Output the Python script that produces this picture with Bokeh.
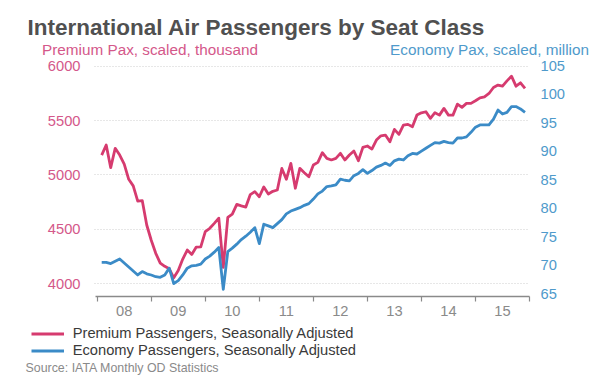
from bokeh.plotting import figure
from bokeh.models import (Range1d, LinearAxis, FixedTicker, Label, Legend, LegendItem)
from bokeh.embed import file_html
from bokeh.resources import INLINE

# ---------------- data (monthly, Jan 2008 .. Nov 2015) ----------------
start_year = 2008
premium = [
    5183, 5275, 5067, 5245, 5183, 5100, 4960, 4900, 4760, 4765, 4540, 4400,   # 2008
    4280, 4190, 4160, 4138, 4055, 4122, 4227, 4310, 4270, 4337, 4340, 4480,   # 2009
    4510, 4555, 4603, 4150, 4610, 4640, 4730, 4716, 4705, 4820, 4847, 4800,   # 2010
    4890, 4825, 4850, 4862, 5060, 4960, 5107, 4878, 5061, 5021, 4984, 5092,   # 2011
    5116, 5205, 5153, 5138, 5153, 5199, 5138, 5183, 5220, 5131, 5254, 5266,   # 2012
    5238, 5321, 5360, 5367, 5305, 5419, 5373, 5459, 5465, 5443, 5550, 5571,   # 2013
    5581, 5520, 5572, 5550, 5612, 5550, 5550, 5651, 5621, 5658, 5658, 5682,   # 2014
    5709, 5718, 5749, 5804, 5826, 5816, 5865, 5908, 5816, 5847, 5795,         # 2015
]
economy = [
    70.5, 70.5, 70.3, 70.7, 71.1, 70.4, 69.7, 69.0, 68.3, 68.9, 68.5, 68.3,   # 2008
    68.0, 67.9, 68.3, 69.5, 66.8, 67.3, 68.3, 69.5, 69.9, 70.0, 70.2, 71.1,   # 2009
    71.6, 72.3, 73.1, 65.8, 72.4, 73.0, 73.7, 74.5, 75.1, 75.8, 76.6, 73.8,   # 2010
    77.2, 76.9, 76.6, 77.3, 78.0, 79.0, 79.5, 79.8, 80.1, 80.5, 80.8, 81.6,   # 2011
    82.5, 83.0, 83.8, 83.9, 84.1, 85.1, 84.9, 84.8, 85.7, 86.1, 86.75, 86.1,  # 2012
    86.6, 87.2, 87.5, 87.9, 87.5, 88.3, 88.6, 88.45, 89.2, 89.6, 89.5, 90.0,  # 2013
    90.5, 91.0, 91.5, 91.4, 91.7, 91.5, 91.4, 92.3, 92.3, 92.5, 93.3, 94.2,   # 2014
    94.6, 94.6, 94.6, 95.6, 97.2, 96.5, 96.8, 97.8, 97.8, 97.4, 96.8,         # 2015
]
years = [2008, 2009, 2010, 2011, 2012, 2013, 2014, 2015]
year_labels = ["08", "09", "10", "11", "12", "13", "14", "15"]
left_ticks = [4000, 4500, 5000, 5500, 6000]
right_ticks = [65, 70, 75, 80, 85, 90, 95, 100, 105]

title_text = "International Air Passengers by Seat Class"
left_title = "Premium Pax, scaled, thousand"
right_title = "Economy Pax, scaled, million"
premium_name = "Premium Passengers, Seasonally Adjusted"
economy_name = "Economy Passengers, Seasonally Adjusted"
source_text = "Source: IATA Monthly OD Statistics"

# month-end positions in decimal years
xpos = [start_year + (i + 1) / 12 for i in range(len(premium))]

# ---------------- styling / geometry ----------------
PINK = "#d63b6f"
PINK_TXT = "#d4588a"
BLUE = "#3b8bc7"
BLUE_TXT = "#4f9acb"
GREY = "#8a8a8a"
FONT = "Liberation Sans"

W, H = 600, 381
# plot area in canvas pixels
PL, PR, PT, PB = 94, 529, 60, 296
# plot-area data limits
XA, XB = 2007.95, 2016.0
YA, YB = 3883.0, 6052.0
RA, RB = 64.53, 105.88


def extend(a, b, lo_px, hi_px, size):
    per = (b - a) / (hi_px - lo_px)
    return a - lo_px * per, b + (size - hi_px) * per


X0, X1 = extend(XA, XB, PL, PR, W)
Y0, Y1 = extend(YA, YB, H - PB, H - PT, H)
R0, R1 = extend(RA, RB, H - PB, H - PT, H)


def dx(px):
    return X0 + px / W * (X1 - X0)


def dy(py):
    return Y0 + (H - py) / H * (Y1 - Y0)


p = figure(width=W, height=H, output_backend="svg", toolbar_location=None,
           x_range=Range1d(X0, X1), y_range=Range1d(Y0, Y1),
           min_border=0, outline_line_color=None,
           background_fill_color="white", border_fill_color="white")
p.extra_y_ranges = {"eco": Range1d(R0, R1)}

# x axis drawn at the bottom of the plot area
xa = p.xaxis[0]
xa.fixed_location = YA
xa.bounds = (2007.97, XB)
xa.ticker = FixedTicker(ticks=[y + 0.5 for y in years],
                        minor_ticks=years + [years[-1] + 1])
xa.major_label_overrides = {y + 0.5: l for y, l in zip(years, year_labels)}
xa.major_tick_line_color = None
xa.major_tick_out = 0
xa.major_tick_in = 0
xa.minor_tick_line_color = GREY
xa.minor_tick_line_width = 1.2
xa.minor_tick_out = 5
xa.minor_tick_in = 0
xa.axis_line_color = GREY
xa.axis_line_width = 1.5
xa.major_label_text_color = GREY
xa.major_label_text_font = FONT
xa.major_label_text_font_size = "14.7px"
xa.major_label_standoff = 4

# left axis (premium)
ya = p.yaxis[0]
ya.fixed_location = XA
ya.ticker = FixedTicker(ticks=left_ticks)
ya.axis_line_color = None
ya.major_tick_line_color = None
ya.minor_tick_line_color = None
ya.major_tick_out = 0
ya.major_tick_in = 0
ya.major_label_text_color = PINK_TXT
ya.major_label_text_font = FONT
ya.major_label_text_font_size = "14.7px"
ya.major_label_standoff = 14

# right axis (economy)
ra = LinearAxis(y_range_name="eco", ticker=FixedTicker(ticks=right_ticks),
                fixed_location=XB)
ra.axis_line_color = None
ra.major_tick_line_color = None
ra.minor_tick_line_color = None
ra.major_tick_out = 0
ra.major_tick_in = 0
ra.major_label_text_color = BLUE_TXT
ra.major_label_text_font = FONT
ra.major_label_text_font_size = "14.7px"
ra.major_label_standoff = 11
p.add_layout(ra, "right")

p.xgrid.grid_line_color = None
g = p.ygrid[0]
g.grid_line_color = "#cfcfcf"
g.grid_line_dash = "1 2"
g.grid_line_width = 1
if "cross_bounds" in g.properties():
    g.cross_bounds = (XA, XB)

r_prem = p.line(xpos, premium, line_color=PINK, line_width=2.8, line_join="round")
r_eco = p.line(xpos, economy, y_range_name="eco", line_color=BLUE, line_width=2.8,
               line_join="round")

legend = Legend(items=[LegendItem(label=premium_name, renderers=[r_prem]),
                       LegendItem(label=economy_name, renderers=[r_eco])],
                location=(30.7, H - 358.6), orientation="vertical",
                glyph_width=33, glyph_height=17, label_height=17,
                label_standoff=9, spacing=0, padding=0, margin=0,
                border_line_color=None, background_fill_alpha=0,
                label_text_font=FONT, label_text_font_size="14.7px",
                label_text_color="#3a3a3a")
p.add_layout(legend, "center")

p.add_layout(Label(x=dx(27), y=dy(27.3), text=title_text, text_font=FONT,
                   text_font_size="22.5px", text_font_style="bold",
                   text_color="#505050", text_baseline="alphabetic"))
p.add_layout(Label(x=dx(41.5), y=dy(49.3), text=left_title, text_font=FONT,
                   text_font_size="15.3px", text_color=PINK_TXT,
                   text_baseline="alphabetic"))
p.add_layout(Label(x=dx(588.5), y=dy(49.3), text=right_title, text_font=FONT,
                   text_font_size="15.3px", text_color=BLUE_TXT,
                   text_align="right", text_baseline="alphabetic"))
p.add_layout(Label(x=dx(25), y=dy(367.3), text=source_text, text_font=FONT,
                   text_font_size="12.4px", text_color=GREY,
                   text_baseline="middle"))

open("out.html", "w").write(file_html(p, INLINE))
